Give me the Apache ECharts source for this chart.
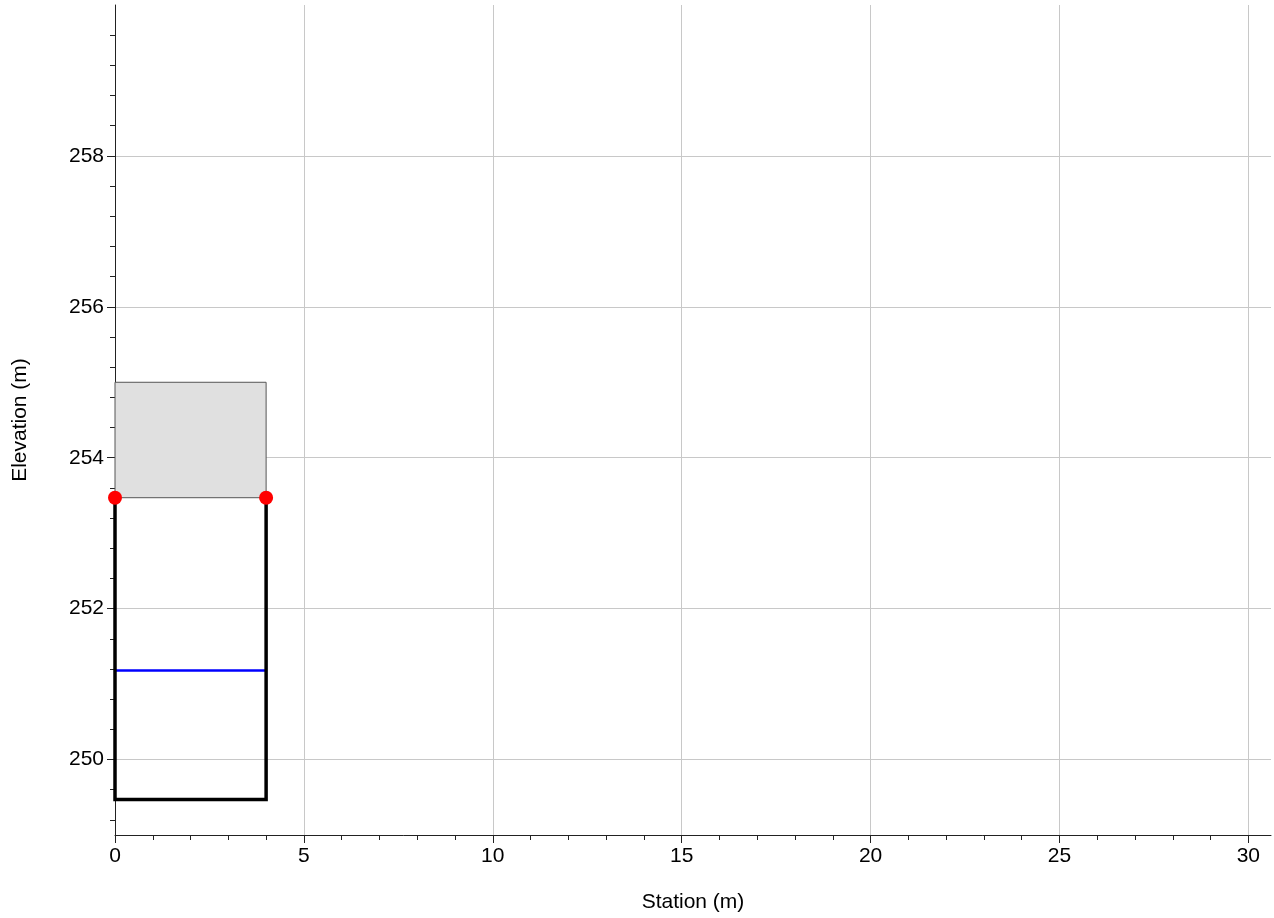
<!DOCTYPE html>
<html>
<head>
<meta charset="utf-8">
<script src="https://cdn.jsdelivr.net/npm/echarts@6/dist/echarts.min.js"></script>
<style>
  html, body { margin: 0; padding: 0; background: #fff; }
  #chart { width: 1274px; height: 918px; }
</style>
</head>
<body>
<div id="chart"></div>
<script>
// culvert outline (left wall, invert, right wall)
var culvertStation = [0, 0, 4, 4];
var culvertElev = [253.47, 249.47, 249.47, 253.47];

// road deck / embankment block over the culvert
var deckStation = [0, 0, 4, 4];
var deckElev = [253.47, 255.0, 255.0, 253.47];

// water surface
var waterStation = [0, 4];
var waterElev = [251.18, 251.18];

// top corners of the culvert
var cornerStation = [0, 4];
var cornerElev = [253.47, 253.47];

// axis ticks
var xMajorTicks = [0, 5, 10, 15, 20, 25, 30];
var yMajorTicks = [250, 252, 254, 256, 258];

// minor ticks: every 1 m on x, every 0.4 m on y
var xMinorTicks = [];
for (var i = 0; i <= 30; i++) xMinorTicks.push(i);
var yMinorTicks = [];
for (var k = 0; k <= 26; k++) yMinorTicks.push(Math.round((249.2 + k * 0.4) * 10) / 10);

function pairs(xs, ys) {
    return xs.map(function(x, i) { return [x, ys[i]]; });
}

var FONT = 'Liberation Sans, Arial, sans-serif';
var AXIS_COLOR = '#222';
var GRID_COLOR = '#c8c8c8';

var myChart = echarts.init(document.getElementById('chart'));

var option = {
    animation: false,
    backgroundColor: '#fff',
    textStyle: { fontFamily: FONT },
    grid: { left: 115, right: 3, top: 5, bottom: 83 },
    xAxis: [
        { // visible axis with minor ticks and labels
            type: 'value',
            min: 0,
            max: 30.6,
            position: 'bottom',
            name: 'Station (m)',
            nameLocation: 'middle',
            nameGap: 57,
            nameTextStyle: { fontSize: 21, color: '#000', fontFamily: FONT },
            axisLine: { show: true, lineStyle: { color: AXIS_COLOR, width: 1 } },
            axisTick: { show: true, length: 5, customValues: xMinorTicks, lineStyle: { color: AXIS_COLOR } },
            axisLabel: { customValues: xMajorTicks, fontSize: 21, color: '#000', margin: 11, fontFamily: FONT },
            splitLine: { show: false }
        },
        { // major ticks + grid lines
            type: 'value',
            min: 0,
            max: 30.6,
            position: 'bottom',
            axisLine: { show: false },
            axisTick: { show: true, length: 8, customValues: xMajorTicks, lineStyle: { color: AXIS_COLOR } },
            axisLabel: { show: false },
            splitLine: { show: true, lineStyle: { color: GRID_COLOR, width: 1 } }
        }
    ],
    yAxis: [
        {
            type: 'value',
            min: 249,
            max: 260,
            position: 'left',
            name: 'Elevation (m)',
            nameLocation: 'middle',
            nameGap: 84,
            nameTextStyle: { fontSize: 21, color: '#000', fontFamily: FONT },
            axisLine: { show: true, lineStyle: { color: AXIS_COLOR, width: 1 } },
            axisTick: { show: true, length: 5, customValues: yMinorTicks, lineStyle: { color: AXIS_COLOR } },
            axisLabel: { customValues: yMajorTicks, fontSize: 21, color: '#000', margin: 11, fontFamily: FONT },
            splitLine: { show: false }
        },
        {
            type: 'value',
            min: 249,
            max: 260,
            position: 'left',
            axisLine: { show: false },
            axisTick: { show: true, length: 8, customValues: yMajorTicks, lineStyle: { color: AXIS_COLOR } },
            axisLabel: { show: false },
            splitLine: { show: true, lineStyle: { color: GRID_COLOR, width: 1 } }
        }
    ],
    series: [
        {
            name: 'deck',
            type: 'custom',
            xAxisIndex: 0,
            yAxisIndex: 0,
            z: 2,
            silent: true,
            encode: { x: 0, y: 1 },
            data: pairs(deckStation, deckElev),
            renderItem: function(params, api) {
                if (params.dataIndex !== 0) return;
                var pts = deckStation.map(function(s, i) {
                    return api.coord([s, deckElev[i]]);
                });
                return {
                    type: 'polygon',
                    shape: { points: pts },
                    style: { fill: '#e0e0e0', stroke: '#555', lineWidth: 1 }
                };
            }
        },
        {
            name: 'water',
            type: 'line',
            xAxisIndex: 0,
            yAxisIndex: 0,
            z: 3,
            symbol: 'none',
            lineStyle: { color: '#0000ff', width: 2.5 },
            data: pairs(waterStation, waterElev)
        },
        {
            name: 'culvert',
            type: 'line',
            xAxisIndex: 0,
            yAxisIndex: 0,
            z: 4,
            symbol: 'none',
            lineStyle: { color: '#000', width: 3.5, cap: 'square', join: 'miter' },
            data: pairs(culvertStation, culvertElev)
        },
        {
            name: 'corners',
            type: 'scatter',
            xAxisIndex: 0,
            yAxisIndex: 0,
            z: 5,
            symbol: 'circle',
            symbolSize: 14,
            itemStyle: { color: '#ff0000', opacity: 1 },
            data: pairs(cornerStation, cornerElev)
        }
    ]
};

myChart.setOption(option, true);
window.onresize = myChart.resize;
</script>
</body>
</html>
